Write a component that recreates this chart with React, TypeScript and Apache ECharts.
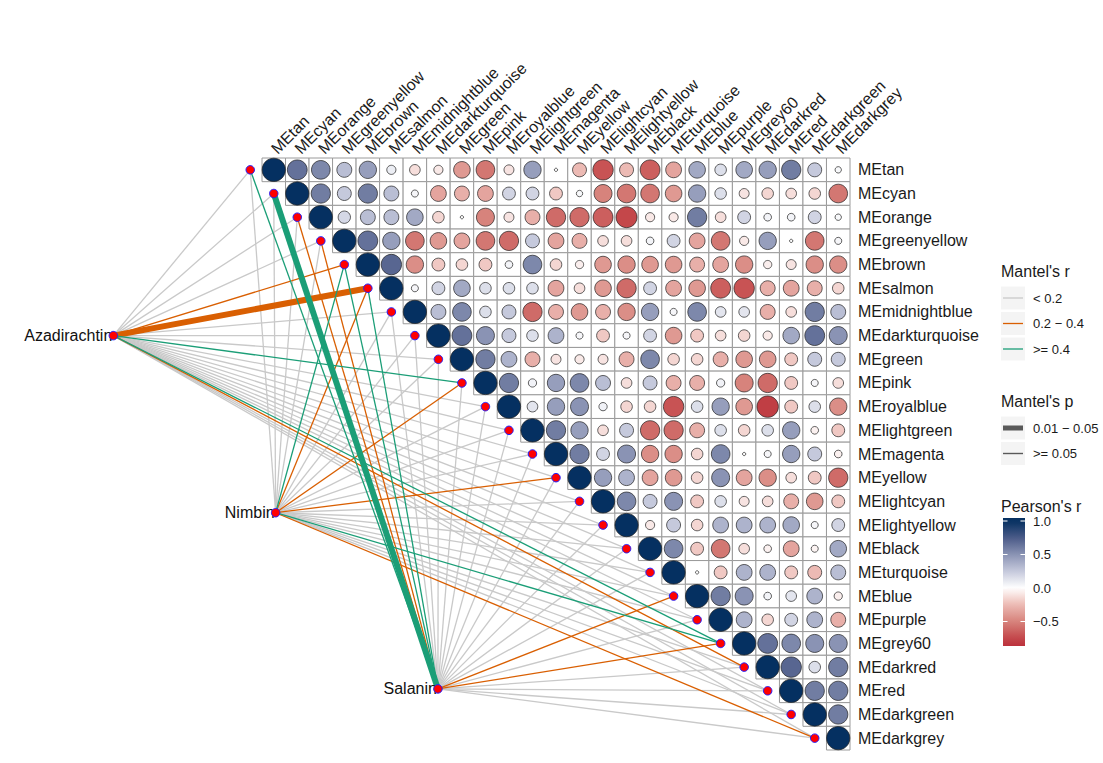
import React, { useEffect, useRef } from "react";
import * as echarts from "echarts";

const FONT = "'Liberation Sans', Arial, Helvetica, sans-serif";

const modules = [
  "MEtan", "MEcyan", "MEorange", "MEgreenyellow", "MEbrown", "MEsalmon",
  "MEmidnightblue", "MEdarkturquoise", "MEgreen", "MEpink", "MEroyalblue",
  "MElightgreen", "MEmagenta", "MEyellow", "MElightcyan", "MElightyellow",
  "MEblack", "MEturquoise", "MEblue", "MEpurple", "MEgrey60", "MEdarkred",
  "MEred", "MEdarkgreen", "MEdarkgrey",
];

// Pearson's r, upper triangle: row i holds columns i+1 .. 24
const corrUpper: number[][] = [
  [0.65, 0.55, 0.3, 0.45, 0.08, -0.12, -0.08, -0.4, -0.55, -0.1, 0.45, 0.005, -0.25, -0.7, -0.25, -0.65, -0.35, 0.4, 0.15, 0.4, 0.45, 0.6, 0.25, 0.03],
  [0.6, 0.25, 0.6, 0.3, 0.04, -0.35, -0.3, -0.35, 0.2, 0.2, -0.2, 0.03, -0.5, -0.55, -0.55, -0.4, 0.45, 0.15, -0.1, -0.15, -0.12, -0.15, -0.55],
  [0.18, 0.3, 0.3, 0.4, -0.15, 0.005, -0.5, -0.1, -0.3, -0.6, -0.6, -0.65, -0.75, -0.08, -0.08, 0.6, -0.12, 0.2, 0.05, 0.05, 0.2, 0.03],
  [0.65, 0.45, -0.55, -0.4, -0.35, -0.55, -0.6, 0.25, -0.35, -0.3, -0.12, -0.12, 0.05, 0.2, -0.35, -0.55, -0.08, 0.45, 0.005, -0.55, 0.04],
  [0.7, -0.45, -0.2, -0.15, -0.2, 0.05, 0.55, -0.15, -0.06, -0.4, -0.45, -0.4, -0.4, -0.3, -0.35, -0.45, -0.06, -0.1, -0.45, -0.45],
  [0.04, 0.2, 0.4, 0.15, 0.15, 0.15, -0.35, -0.12, -0.4, -0.6, 0.2, -0.35, -0.4, -0.65, -0.7, -0.3, -0.35, -0.3, -0.15],
  [0.3, 0.55, 0.15, 0.25, -0.6, -0.3, -0.4, -0.3, -0.45, 0.45, 0.04, 0.55, 0.12, 0.12, -0.3, -0.12, 0.6, 0.3],
  [0.65, 0.5, 0.25, 0.15, 0.35, 0.04, -0.2, 0.04, 0.2, -0.4, -0.2, -0.12, -0.15, -0.08, 0.4, 0.65, 0.5],
  [0.6, 0.35, -0.3, -0.1, -0.08, -0.1, -0.3, 0.55, -0.15, -0.15, -0.3, -0.4, -0.4, -0.2, 0.25, 0.25],
  [0.6, 0.06, 0.45, 0.55, 0.3, -0.12, 0.25, -0.3, -0.3, 0.06, -0.5, -0.6, -0.2, 0.04, -0.12],
  [0.12, 0.45, 0.5, 0.06, -0.15, -0.15, -0.7, 0.15, 0.45, -0.4, -0.8, -0.2, 0.15, -0.45],
  [0.6, 0.45, -0.12, 0.25, -0.6, -0.6, -0.3, 0.15, -0.15, 0.15, 0.45, -0.05, -0.2],
  [0.6, 0.2, 0.5, -0.45, -0.45, -0.15, 0.55, 0.005, 0.04, 0.45, 0.25, -0.05],
  [0.45, 0.35, -0.35, -0.4, -0.15, 0.5, -0.35, -0.45, -0.12, -0.2, -0.6],
  [0.55, 0.25, 0.5, -0.2, 0.15, -0.1, -0.12, -0.3, -0.4, -0.2],
  [-0.08, 0.25, -0.15, 0.35, 0.35, 0.35, 0.4, 0.04, 0.2],
  [0.55, -0.2, -0.55, -0.12, -0.05, -0.35, -0.04, 0.4],
  [0.005, -0.2, 0.35, 0.35, -0.2, -0.25, 0.3],
  [0.6, 0.5, 0.05, 0.12, 0.35, -0.06],
  [0.35, -0.15, 0.2, 0.35, -0.3],
  [0.65, 0.55, 0.5, 0.5],
  [0.7, 0.15, 0.6],
  [0.6, 0.6],
  [0.6],
];

const nodes = ["Azadirachtin", "Nimbin", "Salanin"];
// node anchor positions in matrix units (column, row)
const nodePos: [number, number][] = [[-6.82, 7.0], [0.08, 14.48], [6.98, 21.92]];

// Mantel's r class per module: 0 "< 0.2", 1 "0.2 - 0.4", 2 ">= 0.4"
const mantelRAza = [0, 0, 0, 0, 1, 1, 0, 0, 0, 2, 0, 0, 0, 0, 0, 0, 0, 0, 0, 0, 2, 1, 0, 0, 0];
const mantelRNim = [0, 0, 0, 0, 2, 1, 0, 0, 0, 1, 0, 0, 0, 1, 0, 0, 0, 0, 0, 0, 2, 0, 0, 0, 1];
const mantelRSal = [2, 2, 1, 1, 2, 2, 0, 0, 0, 0, 0, 0, 0, 0, 0, 0, 0, 0, 1, 0, 1, 0, 0, 0, 0];
// Mantel's p class per module: 0 ">= 0.05", 1 "0.01 - 0.05"
const mantelPAza = [0, 0, 0, 0, 0, 1, 0, 0, 0, 0, 0, 0, 0, 0, 0, 0, 0, 0, 0, 0, 0, 0, 0, 0, 0];
const mantelPNim = [0, 0, 0, 0, 0, 0, 0, 0, 0, 0, 0, 0, 0, 0, 0, 0, 0, 0, 0, 0, 0, 0, 0, 0, 0];
const mantelPSal = [0, 1, 0, 0, 0, 0, 0, 0, 0, 0, 0, 0, 0, 0, 0, 0, 0, 0, 0, 0, 0, 0, 0, 0, 0];

const rLabels = ["< 0.2", "0.2 \u2212 0.4", ">= 0.4"];
const pLabels = ["0.01 \u2212 0.05", ">= 0.05"];
const colorbarTicks = [1.0, 0.5, 0.0, -0.5];

const rColors = ["#c9c9c9", "#D95F02", "#1B9E77"];
const gradValues = [-1, -0.75, -0.5, -0.25, 0, 0.25, 0.5, 0.75, 1];
const gradColors = ["#B2182B", "#c4474a", "#d7837c", "#ecbab4", "#ffffff", "#c5c9dc", "#8a93b4", "#4b5b88", "#053061"];

function hexToRgb(h: string) {
  const v = parseInt(h.slice(1), 16);
  return [(v >> 16) & 255, (v >> 8) & 255, v & 255];
}
function colorAt(v: number) {
  for (let k = 0; k < gradValues.length - 1; k++) {
    if (v >= gradValues[k] && v <= gradValues[k + 1]) {
      const t = (v - gradValues[k]) / (gradValues[k + 1] - gradValues[k]);
      const a = hexToRgb(gradColors[k]);
      const b = hexToRgb(gradColors[k + 1]);
      const c = a.map((x, i) => Math.round(x + (b[i] - x) * t));
      return `rgb(${c[0]},${c[1]},${c[2]})`;
    }
  }
  return v > 0 ? gradColors[gradColors.length - 1] : gradColors[0];
}

export default function App() {
  const ref = useRef<HTMLDivElement>(null);
  useEffect(() => {
    if (!ref.current) return;
    const chart = echarts.init(ref.current, null, { renderer: "svg" });
    const n = modules.length;
    const cells: number[][] = [];
    const circles: number[][] = [];
    for (let i = 0; i < n; i++) {
      for (let j = i; j < n; j++) {
        cells.push([j, i]);
        circles.push([j, i, j === i ? 1 : corrUpper[i][j - i - 1]]);
      }
    }
    const mantelR = [mantelRAza, mantelRNim, mantelRSal];
    const mantelP = [mantelPAza, mantelPNim, mantelPSal];
    const links: number[][] = [];
    for (let k = 0; k < nodes.length; k++) {
      for (let m = 0; m < n; m++) {
        links.push([nodePos[k][0], nodePos[k][1], m - 1, m, mantelR[k][m], mantelP[k][m]]);
      }
    }
    links.sort((a, b) => a[4] - b[4] || a[5] - b[5]);
    const moduleDots = modules.map((_, m) => [m - 1, m]);
    const nodeData = nodes.map((name, k) => ({ name, value: nodePos[k] }));

    // legend graphics
    const lx = 1001;
    const g: any[] = [];
    const title = (text: string, y: number) =>
      g.push({ type: "text", x: lx, y, style: { text, fontSize: 16, fontFamily: FONT, fill: "#1a1a1a", verticalAlign: "middle", align: "left" } });
    const label = (text: string, y: number) =>
      g.push({ type: "text", x: 1033, y, style: { text, fontSize: 13, fontFamily: FONT, fill: "#1a1a1a", verticalAlign: "middle", align: "left" } });
    const key = (y: number, stroke: string, w: number) => {
      g.push({ type: "rect", shape: { x: lx, y: y - 11.5, width: 24, height: 23 }, style: { fill: "#f4f4f4" } });
      g.push({ type: "line", shape: { x1: lx + 2, y1: y, x2: lx + 22, y2: y }, style: { stroke, lineWidth: w } });
    };
    title("Mantel's r", 271);
    rLabels.forEach((t, k) => {
      const y = 298 + k * 25.5;
      key(y, rColors[k], 1.3);
      label(t, y);
    });
    title("Mantel's p", 401);
    pLabels.forEach((t, k) => {
      const y = 428 + k * 25.5;
      key(y, "#595959", k === 0 ? 5 : 1.4);
      label(t, y);
    });
    title("Pearson's r", 506);
    const barTop = 518, barBot = 646, zeroY = 588, unit = 67;
    const vAt = (y: number) => (zeroY - y) / unit;
    const stops: any[] = [];
    const steps = 24;
    for (let s = 0; s <= steps; s++) {
      const off = s / steps;
      const v = Math.min(1, vAt(barTop + off * (barBot - barTop)));
      stops.push({ offset: off, color: colorAt(v) });
    }
    g.push({
      type: "rect",
      shape: { x: 1003, y: barTop, width: 22, height: barBot - barTop },
      style: { fill: new echarts.graphic.LinearGradient(0, 0, 0, 1, stops) },
    });
    colorbarTicks.forEach((v) => {
      const y = zeroY - v * unit;
      g.push({ type: "line", shape: { x1: 1003, y1: y, x2: 1007.5, y2: y }, style: { stroke: "#fff", lineWidth: 1 } });
      g.push({ type: "line", shape: { x1: 1020.5, y1: y, x2: 1025, y2: y }, style: { stroke: "#fff", lineWidth: 1 } });
      label(v === 0 ? "0.0" : v < 0 ? "\u2212" + Math.abs(v).toFixed(1) : v.toFixed(1), y);
    });

    const dotStyle = { color: "#ff0000", borderColor: "#2020ff", borderWidth: 1, opacity: 1 };

    chart.setOption({
      animation: false,
      backgroundColor: "#ffffff",
      grid: { left: 262, top: 158, width: 588, height: 592 },
      xAxis: [
        {
          type: "category",
          data: modules,
          position: "top",
          boundaryGap: true,
          axisLine: { show: false },
          axisTick: { show: false },
          splitLine: { show: false },
          axisLabel: { rotate: 45, interval: 0, fontSize: 16, fontFamily: FONT, color: "#1a1a1a", margin: 7 },
        },
        { type: "value", min: -0.5, max: 24.5, show: false },
      ],
      yAxis: [
        {
          type: "category",
          data: modules,
          inverse: true,
          position: "right",
          boundaryGap: true,
          axisLine: { show: false },
          axisTick: { show: false },
          splitLine: { show: false },
          axisLabel: { interval: 0, fontSize: 16, fontFamily: FONT, color: "#1a1a1a", margin: 8 },
        },
        { type: "value", min: -0.5, max: 24.5, inverse: true, show: false },
      ],
      visualMap: {
        show: false,
        seriesIndex: 1,
        dimension: 2,
        min: -1,
        max: 1,
        inRange: { color: gradColors },
      },
      graphic: g,
      series: [
        {
          type: "custom",
          xAxisIndex: 1,
          yAxisIndex: 1,
          z: 1,
          silent: true,
          data: cells,
          renderItem: (_p: any, api: any) => {
            const c = api.coord([api.value(0), api.value(1)]);
            const s = api.size([1, 1]);
            return {
              type: "rect",
              shape: { x: c[0] - s[0] / 2, y: c[1] - s[1] / 2, width: s[0], height: s[1] },
              style: { fill: "#ffffff", stroke: "#9a9a9a", lineWidth: 1 },
            };
          },
        },
        {
          type: "scatter",
          xAxisIndex: 1,
          yAxisIndex: 1,
          z: 2,
          silent: true,
          data: circles,
          symbol: "circle",
          symbolSize: (v: number[]) => Math.max(2.2, 23.3 * Math.pow(Math.abs(v[2]), 0.37)),
          itemStyle: { borderColor: "#1f1f1f", borderWidth: 0.7, opacity: 1 },
        },
        {
          type: "custom",
          xAxisIndex: 1,
          yAxisIndex: 1,
          z: 3,
          clip: false,
          silent: true,
          data: links,
          renderItem: (_p: any, api: any) => {
            const p1 = api.coord([api.value(0), api.value(1)]);
            const p2 = api.coord([api.value(2), api.value(3)]);
            const rc = api.value(4);
            const pc = api.value(5);
            return {
              type: "line",
              shape: { x1: p1[0], y1: p1[1], x2: p2[0], y2: p2[1] },
              style: { stroke: rColors[rc], lineWidth: pc ? 6 : 1.3 },
            };
          },
        },
        {
          type: "scatter",
          xAxisIndex: 1,
          yAxisIndex: 1,
          z: 4,
          clip: false,
          silent: true,
          data: moduleDots,
          symbolSize: 8.5,
          itemStyle: dotStyle,
        },
        {
          type: "scatter",
          xAxisIndex: 1,
          yAxisIndex: 1,
          z: 4,
          clip: false,
          silent: true,
          data: nodeData,
          symbolSize: 0.1,
          itemStyle: { opacity: 1 },
          label: {
            show: true,
            position: "left",
            distance: 1,
            formatter: "{b}",
            fontSize: 16,
            fontFamily: FONT,
            color: "#111111",
            opacity: 1,
          },
        },
        {
          type: "scatter",
          xAxisIndex: 1,
          yAxisIndex: 1,
          z: 5,
          clip: false,
          silent: true,
          data: nodeData,
          symbolSize: 8.5,
          itemStyle: dotStyle,
        },
      ],
    });
    return () => chart.dispose();
  }, []);
  return <div ref={ref} style={{ position: "absolute", left: 0, top: 0, width: 1103, height: 763 }} />;
}
